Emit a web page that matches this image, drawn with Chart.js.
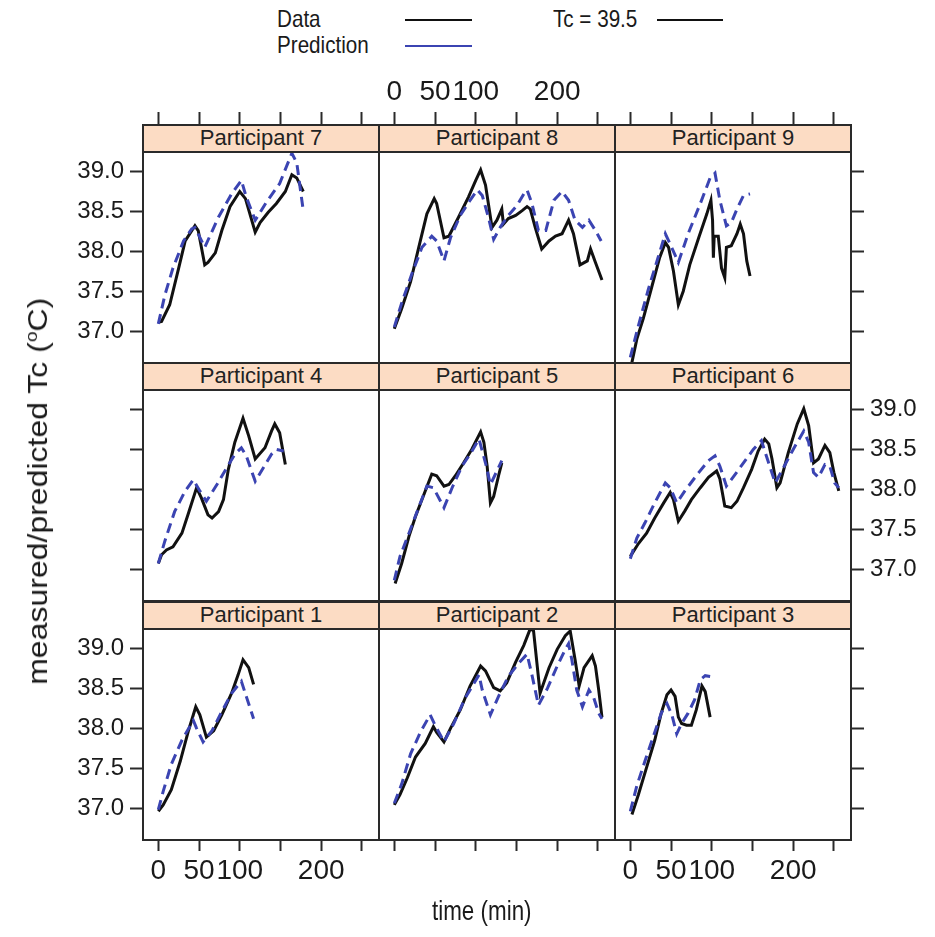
<!DOCTYPE html>
<html>
<head>
<meta charset="utf-8">
<script src="https://cdn.jsdelivr.net/npm/chart.js@4/dist/chart.umd.min.js"></script>
<style>
  body { margin: 0; background: #fff; }
  #wrap { position: relative; width: 935px; height: 937px; overflow: hidden;
          font-family: 'Liberation Sans', Arial, sans-serif; color: #1a1a1a; }
  #wrap canvas { position: absolute; }
  .strip { position: absolute; z-index: 2; box-sizing: border-box; background: #fcdcc4;
           border: 2px solid #2a2a2a; text-align: center;
           font-size: 22px; line-height: 24px; color: #222; }
  .txt { position: absolute; white-space: nowrap; }
  .key { position: absolute; height: 0; }
</style>
</head>
<body>
<div id="wrap"></div>
<script>
// time (min), Tc (deg C)
const p1Data = [[0,36.96],[6,37.04],[16,37.23],[27,37.59],[37,37.97],[46,38.27],[51,38.17],[59,37.89],[68,37.97],[78,38.17],[90,38.44],[98,38.67],[104,38.86],[111,38.76],[117,38.55]]
const p1Pred = [[0,36.98],[6,37.21],[16,37.55],[29,37.85],[43,38.10],[47,38.00],[55,37.83],[66,37.97],[78,38.21],[90,38.44],[102,38.59],[108,38.40],[117,38.12]]

const p2Data = [[0,37.04],[7,37.17],[16,37.38],[26,37.64],[38,37.81],[48,38.02],[52,37.95],[61,37.83],[69,38.00],[81,38.23],[93,38.53],[106,38.78],[112,38.72],[122,38.51],[130,38.47],[138,38.57],[149,38.83],[159,39.04],[167,39.25],[171,39.22],[179,38.44],[190,38.76],[200,38.99],[210,39.16],[216,39.22],[222,38.86],[227,38.53],[233,38.76],[243,38.91],[247,38.78],[251,38.48],[255,38.14]]
const p2Pred = [[0,37.06],[9,37.30],[20,37.68],[32,37.95],[44,38.17],[50,38.04],[61,37.83],[73,38.06],[87,38.38],[104,38.67],[108,38.48],[118,38.17],[128,38.40],[140,38.65],[153,38.82],[163,38.93],[169,38.67],[177,38.29],[188,38.50],[200,38.78],[210,38.99],[214,39.06],[218,38.86],[224,38.48],[231,38.27],[239,38.48],[245,38.38],[251,38.19],[255,38.12]]

const p3Data = [[2,36.92],[10,37.17],[20,37.51],[30,37.85],[38,38.19],[45,38.42],[50,38.48],[55,38.40],[59,38.14],[63,38.06],[69,38.04],[75,38.04],[81,38.23],[88,38.53],[92,38.46],[98,38.14]]
const p3Pred = [[0,36.96],[8,37.28],[18,37.59],[28,37.89],[38,38.19],[45,38.31],[51,38.17],[57,37.93],[63,38.06],[71,38.19],[79,38.36],[86,38.61],[92,38.66],[98,38.65]]

const p4Data = [[0,37.07],[4,37.18],[10,37.24],[18,37.28],[29,37.45],[37,37.70],[47,38.02],[53,37.89],[61,37.68],[66,37.64],[74,37.72],[80,37.87],[86,38.25],[94,38.59],[104,38.89],[111,38.67],[119,38.38],[131,38.52],[139,38.73],[143,38.82],[149,38.71],[156,38.31]]
const p4Pred = [[0,37.07],[8,37.35],[20,37.72],[33,37.98],[43,38.12],[51,37.98],[59,37.85],[72,38.06],[84,38.27],[94,38.44],[102,38.52],[108,38.42],[119,38.10],[129,38.27],[139,38.44],[145,38.50],[154,38.48]]

const p5Data = [[1,36.82],[9,37.07],[18,37.41],[26,37.66],[38,37.98],[46,38.19],[52,38.17],[61,38.04],[67,38.06],[75,38.17],[85,38.33],[95,38.50],[106,38.72],[110,38.59],[114,38.29],[118,37.83],[122,37.91],[128,38.17],[132,38.33]]
const p5Pred = [[0,36.86],[7,37.16],[18,37.45],[28,37.72],[40,38.04],[48,38.02],[61,37.77],[71,38.02],[83,38.29],[93,38.44],[104,38.63],[112,38.33],[118,38.06],[126,38.23],[132,38.36]]

const p6Data = [[0,37.16],[10,37.32],[20,37.45],[30,37.64],[41,37.83],[49,37.96],[53,37.87],[59,37.60],[67,37.73],[75,37.87],[86,38.02],[96,38.15],[106,38.23],[110,38.13],[116,37.79],[124,37.77],[131,37.85],[139,38.02],[149,38.25],[157,38.48],[165,38.63],[170,38.57],[174,38.38],[180,38.02],[184,38.08],[194,38.46],[205,38.82],[213,39.01],[219,38.80],[225,38.33],[231,38.38],[239,38.55],[245,38.46],[250,38.21],[256,37.98]]
const p6Pred = [[0,37.13],[8,37.39],[18,37.58],[30,37.83],[43,38.08],[49,38.02],[57,37.83],[67,37.98],[84,38.21],[96,38.36],[104,38.42],[110,38.29],[118,38.04],[129,38.19],[141,38.36],[151,38.50],[161,38.61],[167,38.42],[178,38.08],[188,38.27],[200,38.50],[213,38.73],[219,38.59],[225,38.21],[231,38.15],[239,38.31],[245,38.29],[251,38.08],[256,38.02]]

const p7Data = [[0,37.11],[4,37.12],[14,37.33],[25,37.79],[33,38.13],[45,38.32],[49,38.26],[57,37.83],[61,37.86],[70,37.98],[78,38.26],[88,38.56],[100,38.75],[107,38.66],[119,38.24],[125,38.36],[135,38.49],[145,38.60],[156,38.75],[164,38.96],[170,38.92],[178,38.75]]
const p7Pred = [[0,37.09],[8,37.45],[18,37.79],[31,38.13],[41,38.28],[45,38.30],[57,38.05],[74,38.43],[90,38.72],[102,38.89],[108,38.68],[119,38.39],[133,38.62],[149,38.85],[164,39.23],[170,39.11],[178,38.51]]

const p8Data = [[0,37.03],[9,37.28],[20,37.62],[30,38.05],[40,38.47],[49,38.66],[52,38.60],[61,38.17],[67,38.19],[79,38.43],[91,38.68],[100,38.89],[106,39.02],[112,38.83],[120,38.30],[126,38.39],[132,38.53],[134,38.34],[140,38.41],[149,38.45],[157,38.51],[163,38.56],[167,38.53],[173,38.30],[181,38.03],[190,38.13],[198,38.19],[206,38.22],[214,38.39],[220,38.22],[228,37.83],[237,37.88],[241,38.03],[247,37.86],[255,37.64]]
const p8Pred = [[0,37.05],[9,37.35],[22,37.73],[34,38.05],[46,38.19],[52,38.13],[61,37.88],[69,38.17],[81,38.45],[93,38.64],[102,38.77],[108,38.70],[116,38.41],[122,38.15],[130,38.30],[140,38.45],[151,38.58],[159,38.72],[163,38.77],[169,38.60],[177,38.26],[186,38.26],[196,38.64],[206,38.75],[214,38.64],[222,38.39],[231,38.30],[239,38.39],[247,38.26],[254,38.13]]

const p9Data = [[1,36.56],[8,36.90],[16,37.16],[26,37.54],[36,37.92],[43,38.11],[47,38.05],[53,37.75],[59,37.33],[65,37.50],[73,37.83],[84,38.17],[94,38.47],[99,38.64],[101,38.39],[102,37.92],[103,38.19],[108,38.19],[112,37.79],[116,37.67],[118,38.05],[124,38.07],[131,38.22],[135,38.34],[139,38.22],[143,37.88],[147,37.69]]
const p9Pred = [[0,36.67],[10,37.07],[22,37.52],[34,37.92],[43,38.22],[49,38.09],[59,37.86],[71,38.22],[86,38.60],[98,38.92],[104,38.98],[110,38.64],[118,38.32],[124,38.36],[131,38.53],[139,38.70],[147,38.72]]

const threshold = 39.5

const xTicks = [0, 50, 100, 150, 200, 250]
const xTickLabels = ['0', '50', '100', '', '200', '']
const yTicks = [37.0, 37.5, 38.0, 38.5, 39.0]
const yTickLabels = ['37.0', '37.5', '38.0', '38.5', '39.0']

// top row first, as the panels sit on the page
const panels = [
  ['Participant 7', p7Data, p7Pred], ['Participant 8', p8Data, p8Pred], ['Participant 9', p9Data, p9Pred],
  ['Participant 4', p4Data, p4Pred], ['Participant 5', p5Data, p5Pred], ['Participant 6', p6Data, p6Pred],
  ['Participant 1', p1Data, p1Pred], ['Participant 2', p2Data, p2Pred], ['Participant 3', p3Data, p3Pred]
]

const COLORS = {
  data: '#111111',
  pred: '#3b44b2',
  frame: '#2a2a2a',
  text: '#1a1a1a'
}

const X_MIN = -18.8, X_MAX = 271
const Y_MIN = 36.6, Y_MAX = 39.245

const colLeft = [143, 379, 615]
const colW = 236
const stripTop = [125, 363, 602]
const stripH = 27
const plotH = 211
const M = 90

const FONT = "'Liberation Sans', Arial, sans-serif"
const wrap = document.getElementById('wrap')

function toPts(rows) {
  return rows.map(r => ({ x: r[0], y: r[1] }))
}

function axis(isX, pos, opts) {
  const ticks = isX ? xTicks : yTicks
  const labels = isX ? xTickLabels : yTickLabels
  return {
    type: 'linear',
    position: pos,
    min: isX ? X_MIN : Y_MIN,
    max: isX ? X_MAX : Y_MAX,
    afterBuildTicks: s => { s.ticks = ticks.map(v => ({ value: v })) },
    afterFit: s => { if (isX) s.height = M; else s.width = M },
    border: { display: true, color: COLORS.frame, width: 2 },
    grid: {
      display: opts.tick,
      drawOnChartArea: false,
      drawTicks: opts.tick,
      tickLength: opts.len,
      tickWidth: 2,
      color: COLORS.frame
    },
    ticks: {
      display: opts.label,
      autoSkip: false,
      maxRotation: 0,
      padding: opts.pad,
      color: COLORS.text,
      font: { family: FONT, size: opts.size },
      callback: v => labels[ticks.indexOf(v)] ?? ''
    }
  }
}

panels.forEach((p, i) => {
  const row = Math.floor(i / 3), col = i % 3
  const plotTop = stripTop[row] + stripH

  const strip = document.createElement('div')
  strip.className = 'strip'
  strip.style.left = (colLeft[col] - 1) + 'px'
  strip.style.top = (stripTop[row] - 1) + 'px'
  strip.style.width = (colW + 2) + 'px'
  strip.style.height = (stripH + 2) + 'px'
  strip.textContent = p[0]
  wrap.appendChild(strip)

  const canvas = document.createElement('canvas')
  canvas.width = colW + 2 * M
  canvas.height = plotH + 2 * M
  canvas.style.left = (colLeft[col] - M) + 'px'
  canvas.style.top = (plotTop - M) + 'px'
  wrap.appendChild(canvas)

  new Chart(canvas, {
    type: 'line',
    data: {
      datasets: [
        {
          label: 'Prediction',
          data: toPts(p[2]),
          borderColor: COLORS.pred,
          borderWidth: 3,
          borderDash: [10, 6],
          pointRadius: 0,
          tension: 0,
          xAxisID: 'x',
          yAxisID: 'y'
        },
        {
          label: 'Data',
          data: toPts(p[1]),
          borderColor: COLORS.data,
          borderWidth: 3,
          pointRadius: 0,
          tension: 0,
          xAxisID: 'x',
          yAxisID: 'y'
        },
        {
          label: 'Tc = 39.5',
          data: [{ x: X_MIN, y: threshold }, { x: X_MAX, y: threshold }],
          borderColor: COLORS.data,
          borderWidth: 2,
          pointRadius: 0,
          xAxisID: 'x',
          yAxisID: 'y'
        }
      ]
    },
    options: {
      responsive: false,
      animation: false,
      layout: { padding: 0 },
      plugins: { legend: { display: false }, tooltip: { enabled: false } },
      scales: {
        x: axis(true, 'bottom', { tick: row === 2, label: row === 2 && col !== 1, len: 11, pad: 3, size: 28 }),
        x2: axis(true, 'top', { tick: row === 0, label: row === 0 && col === 1, len: 40, pad: 3, size: 28 }),
        y: axis(false, 'left', { tick: col === 0, label: col === 0 && row !== 1, len: 13, pad: 6, size: 24 }),
        y2: axis(false, 'right', { tick: col === 2, label: col === 2 && row === 1, len: 13, pad: 6, size: 24 })
      }
    }
  })
})

// key at the top
function text(str, left, top, size, extra) {
  const d = document.createElement('div')
  d.className = 'txt'
  d.style.left = left + 'px'
  d.style.top = top + 'px'
  d.style.fontSize = size + 'px'
  d.innerHTML = str
  if (extra) Object.assign(d.style, extra)
  wrap.appendChild(d)
  return d
}
function keyLine(left, top, width, color) {
  const d = document.createElement('div')
  d.className = 'key'
  d.style.left = left + 'px'
  d.style.top = top + 'px'
  d.style.width = width + 'px'
  d.style.borderTop = '2.5px solid ' + color
  wrap.appendChild(d)
}

const squeeze = { transform: 'scaleX(0.86)', transformOrigin: 'left center' }
text('Data', 277, 5, 24, squeeze)
text('Prediction', 277, 31, 24, squeeze)
keyLine(405, 19, 67, COLORS.data)
keyLine(405, 45, 67, COLORS.pred)
text('Tc = 39.5', 553, 5, 24, squeeze)
keyLine(657, 19, 66, COLORS.data)

text('time (min)', 432, 895, 28, { transform: 'scaleX(0.8)', transformOrigin: 'left center' })
text('measured/predicted Tc (<sup style="font-size:60%">o</sup>C)', 35 - 300, 488 - 19, 32,
  { width: '600px', textAlign: 'center', lineHeight: '38px', transform: 'rotate(-90deg) scaleY(0.85)' })
</script>
</body>
</html>
